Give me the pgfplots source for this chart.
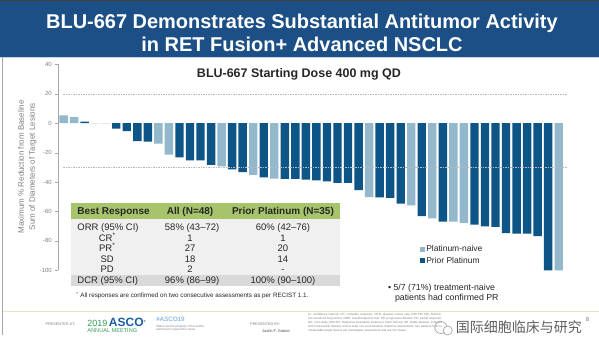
\documentclass[border=0pt]{standalone}
\usepackage{pgfplots}
\pgfplotsset{compat=1.18}
\usepackage{fontspec}
\setmainfont{Liberation Sans}
\newfontfamily\cjk{Noto Sans CJK SC}
\definecolor{banner}{HTML}{1C4F86}
\definecolor{darkbar}{HTML}{0D5586}
\definecolor{lightbar}{HTML}{93B7CB}
\definecolor{hdrgreen}{HTML}{A6C46B}
\definecolor{footline}{HTML}{E4E8C4}
\definecolor{ascogreen}{HTML}{2F9E55}
\definecolor{ascoblue}{HTML}{1A5DA8}
\definecolor{hashblue}{HTML}{5E9ED6}
\definecolor{txt}{HTML}{262626}
\begin{document}
\begin{tikzpicture}[x=1pt,y=1pt]
% canvas and banner
\fill[white] (0,0) rectangle (599,355);
\fill[banner] (0,298) rectangle (599,355);
\fill[black!75] (0,353.5) rectangle (599,355);
\draw[white!75!banner, line width=0.8pt] (0,298) -- (599,298);
\node[white, anchor=base, font=\fontsize{20}{24}\selectfont\bfseries] at (302,326) {BLU-667 Demonstrates Substantial Antitumor Activity};
\node[white, anchor=base, font=\fontsize{20}{24}\selectfont\bfseries] at (302,303) {in RET Fusion+ Advanced NSCLC};
% slide border
\draw[gray!70, line width=0.8pt] (2.5,297.5) -- (2.5,19);
% chart title
\node[anchor=base, text=txt, font=\fontsize{12.5}{14}\selectfont\bfseries] at (299,277.3) {BLU-667 Starting Dose 400 mg QD};
% y label
\node[rotate=90, align=center, text=gray, font=\fontsize{8}{11}\selectfont] at (27,188) {Maximum \% Reduction from Baseline\\Sum of Diameters of Target Lesions};
\begin{axis}[
  at={(58pt,84.3pt)}, anchor=south west,
  scale only axis, width=509.6pt, height=206.2pt,
  xmin=0.5, xmax=48.8, ymin=-100, ymax=40,
  axis x line=none, axis y line*=left,
  y axis line style={gray!70, -},
  ytick={-100,-80,...,40},
  xtick=\empty,
  /pgf/number format/assume math mode=true,
  yticklabel style={font=\fontsize{6}{7}\selectfont, text=gray},
  major tick length=3pt, tick style={gray!70}, tick align=outside,
  legend style={at={(rel axis cs:0.711,0.125)}, anchor=north west, draw=none, fill=none,
    font=\fontsize{8.5}{10}\selectfont, text=txt, row sep=1.5pt, inner sep=0pt,
    nodes={inner sep=1pt}},
  legend cell align=left,
  legend image code/.code={\fill[#1] (0pt,-2.5pt) rectangle (5pt,2.5pt);},
]
\addplot[ybar, bar width=8.4pt, bar shift=0pt, fill=lightbar, draw=none] coordinates {
 (1,5.4) (2,4.1) (10,-13.8) (11,-21.4) (16,-29.4) (19,-35.1) (21,-37.6)
 (30,-50.3) (34,-55.9) (36,-64.7) (38,-66.9) (39,-67.8) (48,-100)};
\addlegendentry{Platinum-naive}
\addplot[ybar, bar width=8.4pt, bar shift=0pt, fill=darkbar, draw=none] coordinates {
 (3,1.1) (4,0) (5,0) (6,-3.6) (7,-5.4) (8,-12.2) (9,-12.5)
 (12,-23.2) (13,-25.3) (14,-25.3) (15,-28.4) (17,-31.4) (18,-33.2) (20,-36.8)
 (22,-37.8) (23,-37.9) (24,-38.3) (25,-38.8) (26,-39.5) (27,-40.5) (28,-40.6) (29,-45.5)
 (31,-50.4) (32,-50.8) (33,-54.7) (35,-63.1) (37,-66.9)
 (40,-68.9) (41,-70.1) (42,-70.5) (43,-74.8) (44,-75.0) (45,-75.1) (46,-76.8) (47,-100)};
\addlegendentry{Prior Platinum}
\draw[gray!55, dash pattern=on 1.5pt off 1pt, line width=0.4pt] (axis cs:0.97,20) -- (axis cs:48.8,20);
\draw[gray!55, dash pattern=on 1.5pt off 1pt, line width=0.4pt] (axis cs:0.97,-30) -- (axis cs:48.8,-30);
\end{axis}
% table
\fill[hdrgreen] (71,136) rectangle (340,152);
\fill[gray!12] (71,80) rectangle (340,135.4);
\fill[gray!30] (71,69) rectangle (340,80);
\begin{scope}[every node/.style={anchor=base, text=txt, font=\fontsize{9.5}{11}\selectfont, inner sep=0pt}]
\node[anchor=base west, font=\fontsize{10}{12}\selectfont\bfseries] at (77,140.5) {Best Response};
\node[font=\fontsize{10}{12}\selectfont\bfseries] at (190,140.5) {All (N=48)};
\node[font=\fontsize{10}{12}\selectfont\bfseries] at (283,140.5) {Prior Platinum (N=35)};
\node[anchor=base west] at (77,124) {ORR (95\% CI)};
\node at (192,124) {58\% (43–72)};
\node at (283,124) {60\% (42–76)};
\node at (107,113.5) {CR\textsuperscript{*}};
\node at (190,113.5) {1};
\node at (283,113.5) {1};
\node at (107,103) {PR\textsuperscript{*}};
\node at (190,103) {27};
\node at (283,103) {20};
\node at (107,92.5) {SD};
\node at (190,92.5) {18};
\node at (283,92.5) {14};
\node at (107,82) {PD};
\node at (190,82) {2};
\node at (283,82) {-};
\node[anchor=base west] at (77,71) {DCR (95\% CI)};
\node at (192,71) {96\% (86–99)};
\node at (283,71) {100\% (90–100)};
\end{scope}
\node[anchor=base west, inner sep=0pt, text=txt, font=\fontsize{6.3}{7}\selectfont] at (76,57) {\textsuperscript{*} All responses are confirmed on two consecutive assessments as per RECIST 1.1.};
% bullet note
\node[anchor=base west, inner sep=0pt, text=txt, font=\fontsize{8.8}{10}\selectfont] at (388,63.7) {\textbullet\ 5/7 (71\%) treatment-naive};
\node[anchor=base west, inner sep=0pt, text=txt, font=\fontsize{8.8}{10}\selectfont] at (395,53.7) {patients had confirmed PR};
% footer
\draw[footline, line width=1pt] (3,43) -- (599,43);
\node[anchor=base west, inner sep=0pt, text=gray, font=\fontsize{3.8}{4}\selectfont] at (45,29.5) {PRESENTED AT:};
\node[anchor=base west, inner sep=0pt] at (87,28) {\fontsize{9}{10}\selectfont\color{ascogreen}2019\,\color{ascoblue}\fontsize{12}{13}\selectfont\bfseries ASCO\textsuperscript{\fontsize{3}{3}\selectfont\textregistered}};
\node[anchor=base west, inner sep=0pt, text=ascogreen, font=\fontsize{5.6}{6}\selectfont] at (87,21.5) {ANNUAL MEETING};
\node[anchor=base west, inner sep=0pt, text=hashblue, font=\fontsize{6.3}{7}\selectfont] at (156,33.5) {\#ASCO19};
\node[anchor=base west, inner sep=0pt, text=gray, font=\fontsize{3}{3.5}\selectfont] at (156,27.5) {Slides are the property of the author,};
\node[anchor=base west, inner sep=0pt, text=gray, font=\fontsize{3}{3.5}\selectfont] at (156,24) {permission required for reuse.};
\node[anchor=base west, inner sep=0pt, text=gray, font=\fontsize{3.8}{4}\selectfont] at (250,29.5) {PRESENTED BY:};
\node[anchor=base west, inner sep=0pt, text=gray!60!black, font=\fontsize{4}{4.5}\selectfont] at (262,21.5) {Justin F. Gainor};
\node[anchor=north west, inner sep=0pt, text width=134pt, align=justify, text=gray, font=\fontsize{3}{4}\selectfont] at (308,41) {CI, confidence interval; CR, complete response; DCR, disease control rate (CR+PR+SD); NSCLC, non-small cell lung cancer; ORR, overall response rate; PD, progressive disease; PR, partial response; QD, once daily; RECIST, Response Evaluation Criteria in Solid Tumors; SD, stable disease. Patients with measurable disease and at least one post-baseline response assessment; two patients had no measurable target lesions per investigator assessment and are not shown.};
\node[anchor=base, inner sep=0pt, text=gray, font=\fontsize{6}{7}\selectfont] at (588,33) {8};
% watermark
\draw[gray!70, line width=0.7pt] (441,27) circle (6);
\draw[gray!70, line width=0.7pt, fill=white] (448,24) circle (4.5);
\node[anchor=base west, inner sep=0pt, text=gray!75!black, font=\cjk\fontsize{14}{16}\selectfont] at (456,21.5) {国际细胞临床与研究};
\end{tikzpicture}
\end{document}
